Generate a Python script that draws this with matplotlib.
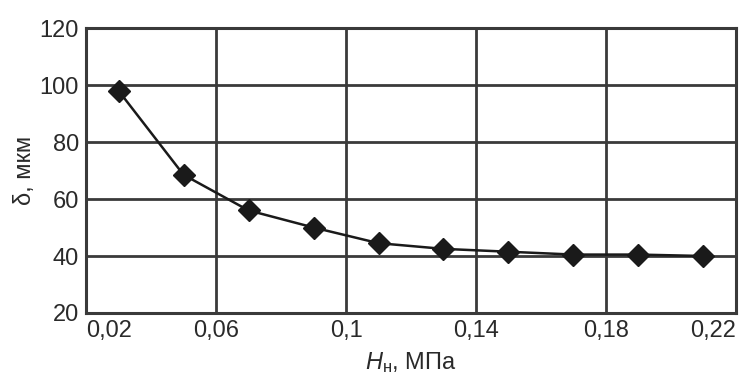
import matplotlib
matplotlib.use("Agg")
import matplotlib.pyplot as plt

# pressure H_n, MPa and thickness delta, um
pressure = [0.03, 0.05, 0.07, 0.09, 0.11, 0.13, 0.15, 0.17, 0.19, 0.21]
delta = [98, 68.5, 56, 50, 44.5, 42.5, 41.5, 40.5, 40.5, 40]

x_ticks = [0.02, 0.06, 0.1, 0.14, 0.18, 0.22]
x_labels = ["0,02", "0,06", "0,1", "0,14", "0,18", "0,22"]
y_ticks = [20, 40, 60, 80, 100, 120]

plt.rcParams["font.family"] = ["Liberation Sans", "DejaVu Sans"]
plt.rcParams["mathtext.fontset"] = "custom"
plt.rcParams["mathtext.rm"] = "Liberation Sans"
plt.rcParams["mathtext.it"] = "Liberation Sans:italic"

grid_col = "#3a3a3a"
text_col = "#2a2a2a"

fig = plt.figure(figsize=(7.56, 3.88), dpi=100)
ax = fig.add_axes([0.1138, 0.1933, 0.8597, 0.7345])

ax.plot(pressure, delta, color="#1a1a1a", lw=1.8, marker="D",
        markersize=11.5, markerfacecolor="#1a1a1a", markeredgecolor="#1a1a1a",
        zorder=3)

ax.set_xlim(0.02, 0.22)
ax.set_ylim(20, 120)
ax.set_xticks(x_ticks)
ax.set_xticklabels(x_labels)
ax.set_yticks(y_ticks)
ax.grid(True, color=grid_col, lw=2)
ax.tick_params(length=0, labelsize=17, labelcolor=text_col, pad=5)
for spine in ax.spines.values():
    spine.set_color(grid_col)
    spine.set_linewidth(2.2)

# keep the edge labels inside the frame like in the original
xl = ax.get_xticklabels()
xl[0].set_horizontalalignment("left")
xl[-1].set_horizontalalignment("right")

ax.set_xlabel(r"$\mathit{H}_{\mathrm{н}}$, МПа", fontsize=17,
              color=text_col, labelpad=6)
ax.set_ylabel("δ, мкм", fontsize=17, color=text_col, labelpad=3)

fig.savefig("out.png", dpi=100)
